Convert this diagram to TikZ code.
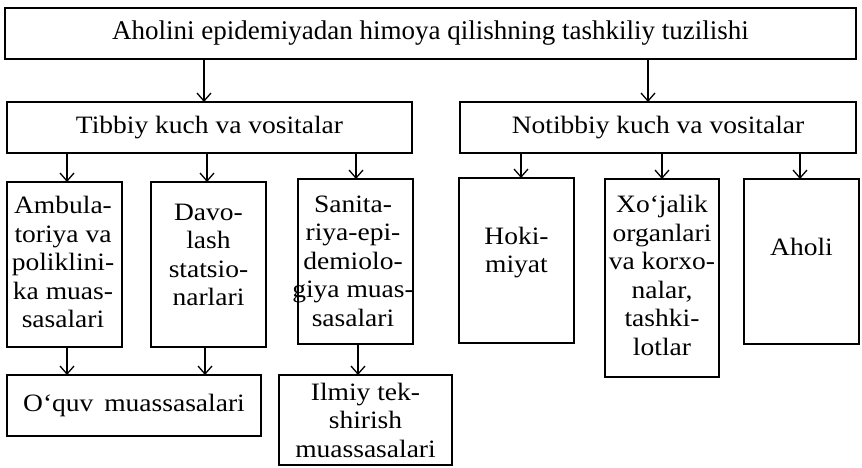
\documentclass[tikz,border=0pt]{standalone}
\usepackage{fontspec}
\setmainfont{Liberation Serif}
\newfontfamily\boxfont[FakeStretch=1.1]{Liberation Serif}
\usetikzlibrary{arrows.meta}
\begin{document}
\begin{tikzpicture}[x=1pt,y=-1pt,
  box/.style={draw,line width=2.4pt,inner sep=0pt,outer sep=0pt,align=center},
  bigtxt/.style={font=\fontsize{27}{30}\selectfont},
  midtxt/.style={font=\boxfont\fontsize{25}{28}\selectfont},
  txt/.style={align=center,inner sep=0pt,font=\boxfont\fontsize{25}{28.5}\selectfont},
  arr/.style={line width=1.3pt,-{Straight Barb[length=8pt,width=14pt,line width=1.3pt]}}
]
\useasboundingbox (0,0) rectangle (862,467);
% boxes
\node[box,bigtxt,minimum width=851pt,minimum height=51pt] (top) at (430.5,33.5) {Aholini epidemiyadan himoya qilishning tashkiliy tuzilishi};
\node[box,midtxt,minimum width=405pt,minimum height=51pt] (tib) at (209.5,127.5) {Tibbiy kuch va vositalar};
\node[box,midtxt,minimum width=396pt,minimum height=51pt] (notib) at (658,127.5) {Notibbiy kuch va vositalar};
\node[box,minimum width=115pt,minimum height=165pt] (amb) at (64.5,264.5) {};
\node[box,minimum width=115pt,minimum height=165pt] (davo) at (208.5,264.5) {};
\node[box,minimum width=115pt,minimum height=165pt] (san) at (355.5,261.5) {};
\node[box,minimum width=115pt,minimum height=165pt] (hoki) at (516.5,260.5) {};
\node[box,minimum width=114pt,minimum height=198pt] (xoj) at (662,278) {};
\node[box,minimum width=115pt,minimum height=165pt] (aholi) at (801.5,261.5) {};
\node[box,txt,minimum width=254pt,minimum height=61pt] (oquv) at (134,405.5) {O‘quv\hspace{4pt} muassasalari};
\node[box,txt,minimum width=173pt,minimum height=90pt] (ilmiy) at (365.5,420) {Ilmiy tek-\\shirish\\muassasalari};
% texts
\node[txt] (ambt) at (63,262) {Ambula-\\toriya va\\poliklini-\\ka muas-\\sasalari};
\node[txt] (davot) at (208.5,255) {Davo-\\lash\\statsio-\\narlari};
\node[txt] (sant) at (353,261) {Sanita-\\riya-epi-\\demiolo-\\giya muas-\\sasalari};
\node[txt] (hokit) at (516.5,252.5) {Hoki-\\miyat};
\node[txt] (xojt) at (662,275.5) {Xo‘jalik\\organlari\\va korxo-\\nalar,\\tashki-\\lotlar};
\node[txt] (aholit) at (801.5,247) {Aholi};
% arrow x positions
\coordinate (x1) at (204,0);
\coordinate (x2) at (648,0);
\coordinate (x3) at (67,0);
\coordinate (x4) at (207,0);
\coordinate (x5) at (356,0);
\coordinate (x6) at (521,0);
\coordinate (x7) at (662,0);
\coordinate (x8) at (800,0);
\coordinate (x9) at (67,0);
\coordinate (x10) at (205,0);
\coordinate (x11) at (358,0);
% arrows
\draw[arr] (top.south -| x1) -- (tib.north -| x1);
\draw[arr] (top.south -| x2) -- (notib.north -| x2);
\draw[arr] (tib.south -| x3) -- (amb.north -| x3);
\draw[arr] (tib.south -| x4) -- (davo.north -| x4);
\draw[arr] (tib.south -| x5) -- (san.north -| x5);
\draw[arr] (notib.south -| x6) -- (hoki.north -| x6);
\draw[arr] (notib.south -| x7) -- (xoj.north -| x7);
\draw[arr] (notib.south -| x8) -- (aholi.north -| x8);
\draw[arr] (amb.south -| x9) -- (oquv.north -| x9);
\draw[arr] (davo.south -| x10) -- (oquv.north -| x10);
\draw[arr] (san.south -| x11) -- (ilmiy.north -| x11);
\end{tikzpicture}
\end{document}
